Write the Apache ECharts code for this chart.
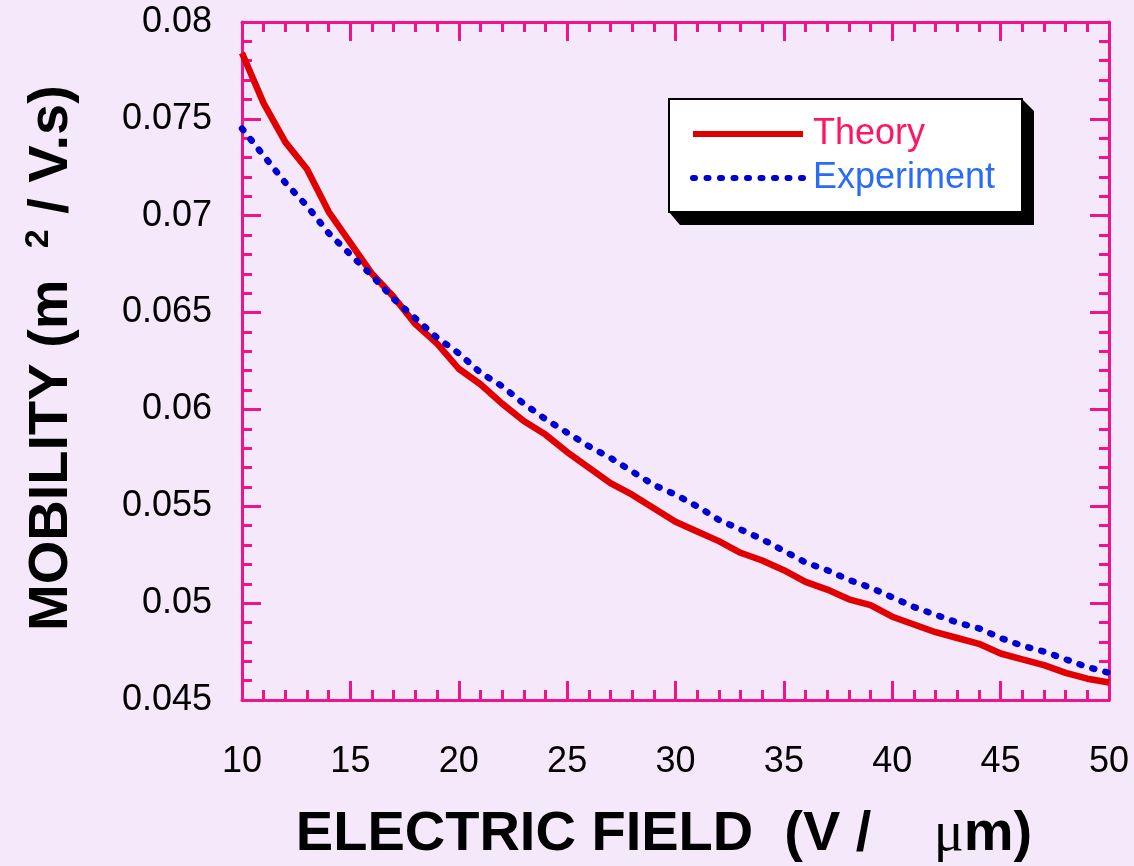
<!DOCTYPE html>
<html>
<head>
<meta charset="utf-8">
<script src="https://cdn.jsdelivr.net/npm/echarts@6/dist/echarts.min.js"></script>
<style>
html,body{margin:0;padding:0;background:#F5E8FB;}
#chart{width:1134px;height:866px;}
</style>
</head>
<body>
<div id="chart"></div>
<script>
// Electric field (V/µm)
const fieldValues = [10,11,12,13,14,15,16,17,18,19,20,21,22,23,24,25,26,27,28,29,30,31,32,33,34,35,36,37,38,39,40,41,42,43,44,45,46,47,48,49,50];
// Theory mobility (m^2/V.s)
const theoryValues = [0.0784,0.0758,0.0738,0.0724,0.0702,0.0686,0.0670,0.0658,0.0644,0.0634,0.0621,0.0613,0.0603,0.0594,0.0587,0.0578,0.0570,0.0562,0.0556,0.0549,0.0542,0.0537,0.0532,0.0526,0.0522,0.0517,0.0511,0.0507,0.0502,0.0499,0.0493,0.0489,0.0485,0.0482,0.0479,0.0474,0.0471,0.0468,0.0464,0.0461,0.0459];
// Experiment mobility (m^2/V.s)
const experimentValues = [0.0745,0.0731,0.0717,0.0705,0.0691,0.0680,0.0669,0.0657,0.0647,0.0637,0.0629,0.0619,0.0612,0.0603,0.0595,0.0588,0.0581,0.0575,0.0568,0.0561,0.0556,0.0550,0.0543,0.0538,0.0533,0.0527,0.0521,0.0517,0.0512,0.0508,0.0503,0.0498,0.0494,0.0490,0.0487,0.0482,0.0478,0.0475,0.0471,0.0467,0.0464];
const seriesNames = ['Theory', 'Experiment'];
const xTitle = 'ELECTRIC FIELD  (V /    ';
const yTitle = 'MOBILITY (m  ';

const FONT = '"Liberation Sans", Arial, sans-serif';
const PINK = '#EE1489';
const BG = '#F5E8FB';

function pairs(xs, ys){ return xs.map((x,i)=>[x, ys[i]]); }

const axisLine = {show:true, lineStyle:{color:PINK, width:3}};
const tick = {show:true, inside:true, length:19, lineStyle:{color:PINK, width:3}};
const minor = {show:true, splitNumber:5, length:10, lineStyle:{color:PINK, width:3}};

function xAxisCfg(pos, labels){
  return {
    type:'value', position:pos, min:10, max:50, interval:5,
    axisLine, axisTick:tick, minorTick:minor, splitLine:{show:false}, minorSplitLine:{show:false},
    axisLabel:{show:labels, color:'#000', fontSize:36, fontFamily:FONT, margin:44}
  };
}
function yAxisCfg(pos, labels){
  return {
    type:'value', position:pos, min:0.045, max:0.08, interval:0.005,
    axisLine, axisTick:tick, minorTick:minor, splitLine:{show:false}, minorSplitLine:{show:false},
    axisLabel:{show:labels, color:'#000', fontSize:36, fontFamily:FONT, margin:30,
      formatter: v => String(+v.toFixed(3))}
  };
}

const chart = echarts.init(document.getElementById('chart'), null, {renderer:'canvas'});
chart.setOption({
  backgroundColor: BG,
  animation:false,
  grid:{left:242, top:22, right:25, bottom:166},
  xAxis:[xAxisCfg('bottom', true), xAxisCfg('top', false)],
  yAxis:[yAxisCfg('left', true), yAxisCfg('right', false)],
  legend:{
    orient:'vertical', left:668, top:98, z:10,
    data: seriesNames,
    padding:[18, 28, 16, 22], itemGap:8, itemWidth:110, itemHeight:20,
    itemStyle:{opacity:0},
    lineStyle:{width:6},
    formatter: name => name === 'Theory' ? '{t|' + name + '}' : '{e|' + name + '}',
    textStyle:{fontSize:36, fontFamily:FONT,
      rich:{ t:{color:'#FF1466', fontSize:36, fontFamily:FONT, padding:[0,0,0,5]},
             e:{color:'#2A6CF5', fontSize:36, fontFamily:FONT, padding:[0,0,0,5]} }}
  },
  series:[
    { name: seriesNames[0], type:'line', data:pairs(fieldValues, theoryValues),
      symbol:'none', smooth:false,
      lineStyle:{color:'#E00000', width:6.5}, itemStyle:{color:'#E00000'}, z:3 },
    { name: seriesNames[1], type:'line', data:pairs(fieldValues, experimentValues),
      symbol:'none', smooth:false,
      lineStyle:{color:'#0000D0', width:6.5, type:[2,11.5], cap:'round'}, itemStyle:{color:'#0000D0'}, z:4 }
  ],
  graphic:[
    { type:'polygon', z:5,
      shape:{points:[[1022,99],[1034,111],[1034,225],[680,225],[669,212],[1022,212]]},
      style:{fill:'#000'} },
    { type:'rect', z:6,
      shape:{x:669, y:99, width:353, height:113},
      style:{fill:'#FFFFFF', stroke:'#000', lineWidth:2} },
    { type:'text', x:52, y:358, rotation:Math.PI/2,
      style:{ text: '{a|' + yTitle + '}{s|2}{a| / V.s)}', align:'center', verticalAlign:'middle',
        rich:{ a:{fontSize:56, fontWeight:'bold', fontFamily:FONT, fill:'#000', lineHeight:60},
               s:{fontSize:34, fontWeight:'bold', fontFamily:FONT, fill:'#000', verticalAlign:'top', lineHeight:60} } } },
    { type:'text', x:664, y:835,
      style:{ text: '{a|' + xTitle + '}{m|μ}{a|m)}', align:'center', verticalAlign:'middle',
        rich:{ a:{fontSize:56, fontWeight:'bold', fontFamily:FONT, fill:'#000'},
               m:{fontSize:56, fontWeight:'normal', fontFamily:'"Liberation Serif", serif', fill:'#000'} } } }
  ]
});
</script>
</body>
</html>
